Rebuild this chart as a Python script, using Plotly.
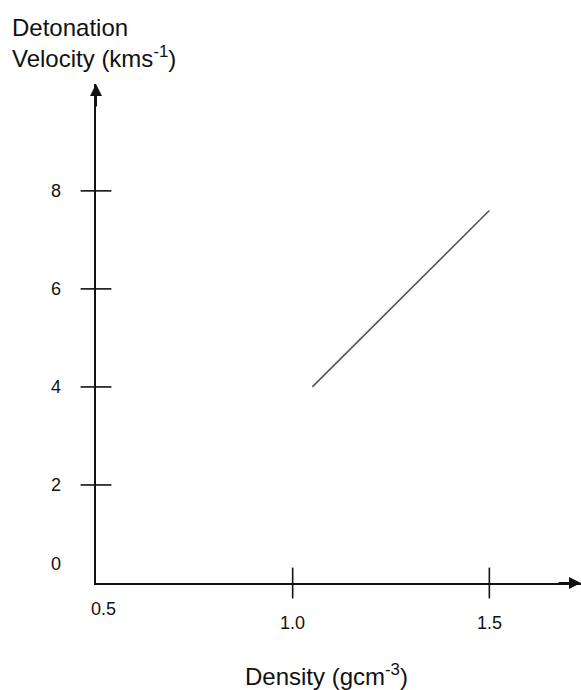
import plotly.graph_objects as go

# ---- data ----
density = [1.05, 1.5]          # g cm^-3
velocity = [4.0, 7.6]          # km s^-1
y_tick_vals = [0, 2, 4, 6, 8]
y_tick_text = ["0", "2", "4", "6", "8"]
x_tick_vals = [0.5, 1.0, 1.5]
x_tick_text = ["0.5", "1.0", "1.5"]
y_title = "Detonation<br>Velocity (kms<sup>-1</sup>)"
x_title = "Density (gcm<sup>-3</sup>)"

FONT = "Arial, Liberation Sans, sans-serif"
INK = "#111111"
X0, X1 = 0.5, 1.733
Y0, Y1 = 0.0, 10.18

fig = go.Figure()

# the data line
fig.add_trace(go.Scatter(x=density, y=velocity, mode="lines",
                         line=dict(color="#555555", width=1.6),
                         hoverinfo="skip", showlegend=False))

# crossing tick marks (no mark at the origin)
fig.add_trace(go.Scatter(x=[X0] * (len(y_tick_vals) - 1), y=y_tick_vals[1:], mode="markers",
                         marker=dict(symbol="line-ew", size=22, line=dict(color=INK, width=1.6)),
                         cliponaxis=False, hoverinfo="skip", showlegend=False))
fig.add_trace(go.Scatter(x=x_tick_vals[1:], y=[Y0] * (len(x_tick_vals) - 1), mode="markers",
                         marker=dict(symbol="line-ns", size=22, line=dict(color=INK, width=1.6)),
                         cliponaxis=False, hoverinfo="skip", showlegend=False))

annotations = []
# y tick labels
for v, t in zip(y_tick_vals, y_tick_text):
    annotations.append(dict(x=X0, y=v, xref="x", yref="y", text=t, showarrow=False,
                            xanchor="center", yanchor="middle", xshift=-40,
                            yshift=19 if v == 0 else 0,
                            font=dict(family=FONT, size=18, color=INK)))
# x tick labels
for v, t in zip(x_tick_vals, x_tick_text):
    first = (v == X0)
    annotations.append(dict(x=v, y=Y0, xref="x", yref="y", text=t, showarrow=False,
                            xanchor="center", yanchor="middle",
                            xshift=7 if first else 0,
                            yshift=-26 if first else -40,
                            font=dict(family=FONT, size=18, color=INK)))
# axis titles
annotations.append(dict(x=0, y=1, xref="paper", yref="paper", text=y_title, showarrow=False,
                        xanchor="left", yanchor="top", align="left", xshift=-86, yshift=72,
                        font=dict(family=FONT, size=24, color=INK)))
annotations.append(dict(x=1.087, y=Y0, xref="x", yref="y", text=x_title, showarrow=False,
                        xanchor="center", yanchor="middle", yshift=-92,
                        font=dict(family=FONT, size=24, color=INK)))
# arrow heads
annotations.append(dict(x=X1, y=Y0, xref="x", yref="y", ax=-24, ay=0, text="",
                        showarrow=True, arrowhead=2, arrowsize=1.2, arrowwidth=2,
                        arrowcolor=INK, standoff=0))
annotations.append(dict(x=X0, y=Y1, xref="x", yref="y", ax=0, ay=24, text="",
                        showarrow=True, arrowhead=2, arrowsize=1.2, arrowwidth=2,
                        arrowcolor=INK, standoff=0))

fig.update_layout(
    width=581, height=690,
    margin=dict(l=96, r=0, t=84, b=107),
    paper_bgcolor="white", plot_bgcolor="white",
    xaxis=dict(range=[X0, X1], showgrid=False, zeroline=False, showticklabels=False,
               ticks="", showline=True, linecolor=INK, linewidth=2, fixedrange=True),
    yaxis=dict(range=[Y0, Y1], showgrid=False, zeroline=False, showticklabels=False,
               ticks="", showline=True, linecolor=INK, linewidth=2, fixedrange=True),
    annotations=annotations,
    showlegend=False,
    hovermode=False,
)

fig.write_html("out.html",
               config={"displayModeBar": False, "staticPlot": True},
               post_script="document.body.style.margin='0';document.body.style.overflow='hidden';")
